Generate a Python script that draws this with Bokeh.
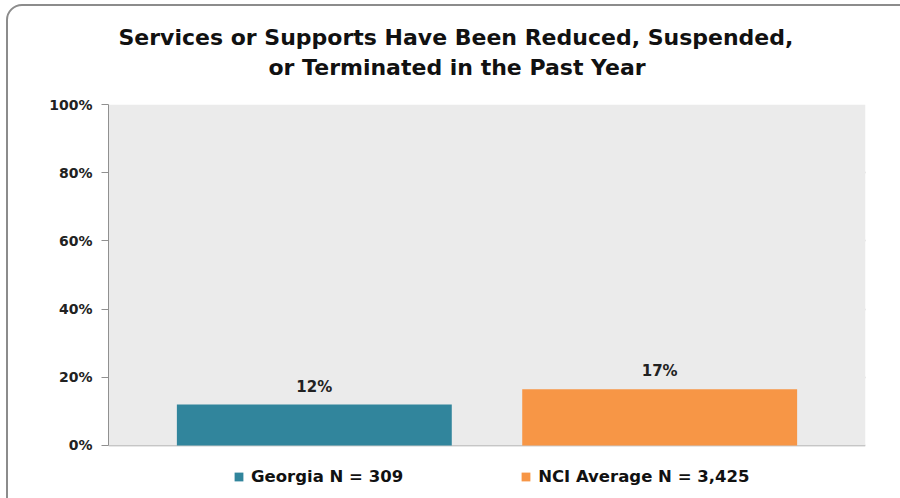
from bokeh.plotting import figure
from bokeh.models import (ColumnDataSource, Range1d, FixedTicker, PrintfTickFormatter,
                          Legend, LegendItem, LabelSet, Title, InlineStyleSheet,
                          BoxAnnotation)
from bokeh.core.properties import value
from bokeh.embed import file_html
from bokeh.resources import INLINE

series = ["Georgia N = 309", "NCI Average N = 3,425"]
values = [12, 16.5]
value_labels = ["12%", "17%"]
colors = ["#31859c", "#f79646"]
y_ticks = [0, 20, 40, 60, 80, 100]
title_lines = ["Services or Supports Have Been Reduced, Suspended,",
               "or Terminated in the Past Year"]

FONT = "DejaVu Sans"

src = ColumnDataSource(dict(x=list(range(len(series))), top=values, name=series,
                            color=colors, lab=value_labels))

p = figure(width=900, height=498, output_backend="svg", toolbar_location=None,
           x_range=Range1d(-0.596, 1.596), y_range=Range1d(-14.37, 100),
           min_border_left=108, min_border_right=35, min_border_top=104,
           min_border_bottom=4)
p.background_fill_color = "white"
p.border_fill_color = "white"
p.outline_line_color = None

# grey plot area between 0% and 100%
p.add_layout(BoxAnnotation(bottom=0, top=100, fill_color="#ebebeb", fill_alpha=1,
                           line_color=None, level="underlay"))

r = p.vbar(x="x", top="top", width=0.796, color="color", source=src, line_color=None)

p.yaxis.ticker = FixedTicker(ticks=y_ticks)
p.yaxis.bounds = (0, 100)
p.yaxis.formatter = PrintfTickFormatter(format="%d%%")
p.yaxis.major_label_text_font = FONT
p.yaxis.major_label_text_font_style = "bold"
p.yaxis.major_label_text_font_size = "14px"
p.yaxis.major_label_text_color = "#222222"
p.yaxis.axis_line_color = "#909090"
p.yaxis.major_tick_line_color = "#909090"
p.yaxis.major_tick_out = 7
p.yaxis.major_tick_in = 0
p.yaxis.minor_tick_line_color = None
p.yaxis.major_label_standoff = 9

p.xaxis.visible = False
p.xgrid.grid_line_color = None
p.ygrid.ticker = FixedTicker(ticks=y_ticks)
p.ygrid.grid_line_color = "#a0a0a0"
p.ygrid.grid_line_width = 1.5

p.add_layout(LabelSet(x="x", y="top", text="lab", source=src, text_align="center",
                      text_baseline="bottom", y_offset=9, text_font=value(FONT),
                      text_font_style="bold", text_font_size="15px",
                      text_color="#222222"))

# second line first: closest to the frame
p.add_layout(Title(text=title_lines[1], align="left", offset=160, standoff=50,
                   text_font=FONT, text_font_style="bold", text_font_size="22px",
                   text_color="#111111"), "above")
p.add_layout(Title(text=title_lines[0], align="left", offset=10, standoff=-44,
                   text_font=FONT, text_font_style="bold", text_font_size="22px",
                   text_color="#111111"), "above")

items = [LegendItem(label=s, renderers=[r], index=i) for i, s in enumerate(series)]
leg = Legend(items=items, orientation="horizontal", location=(125, 8),
             glyph_width=11, glyph_height=11, label_standoff=7, spacing=117,
             padding=0, margin=0, border_line_color=None, background_fill_alpha=0,
             label_text_font=FONT, label_text_font_style="bold",
             label_text_font_size="16.5px", label_text_color="#111111")
p.add_layout(leg, "center")

p.stylesheets = [InlineStyleSheet(css=(
    ":host::after { content: ''; position: fixed; left: 6px; top: 4px; "
    "width: 912px; height: 520px; border: 2px solid #8c8c8c; border-radius: 16px; "
    "box-sizing: border-box; pointer-events: none; }"))]

open("out.html", "w").write(file_html(p, INLINE))
